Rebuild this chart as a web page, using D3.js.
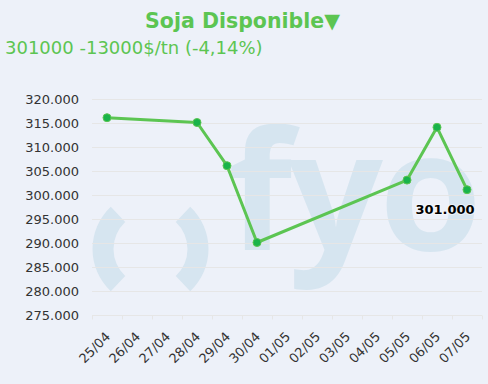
<!DOCTYPE html>
<html>
<head>
<meta charset="utf-8">
<script src="https://cdnjs.cloudflare.com/ajax/libs/d3/7.8.5/d3.min.js"></script>
<style>
  body { margin: 0; background: #edf1f9; }
  svg { display: block; font-family: 'DejaVu Sans', Verdana, sans-serif; }
</style>
</head>
<body>
<svg width="488" height="384"></svg>
<script>
// chart values
var dates = ['25/04','26/04','27/04','28/04','29/04','30/04','01/05','02/05','03/05','04/05','05/05','06/05','07/05'];
var prices = [316000, null, null, 315000, 306000, 290000, null, null, null, null, 303000, 314000, 301000];
var yTicks = [275000, 280000, 285000, 290000, 295000, 300000, 305000, 310000, 315000, 320000];
var title = 'Soja Disponible\u25BC';
var subtitle = '301000 -13000$/tn (-4,14%)';
var lastLabel = 301000;

var svg = d3.select('svg');
var green = '#5cc552';
var fmt = d3.formatLocale({decimal: ',', thousands: '.', grouping: [3], currency: ['$', '']}).format(',.0f');

var x = d3.scaleBand().domain(dates).range([92, 482]);
var y = d3.scaleLinear().domain([275000, 320000]).range([314.5, 98.5]);

svg.append('rect').attr('width', 488).attr('height', 384).attr('fill', '#edf1f9');

// watermark "( )fyo"
var wm = svg.append('g').attr('fill', '#d6e5f0');
var paren = d3.arc().innerRadius(37).outerRadius(58);
wm.append('path')
  .attr('transform', 'translate(150.5,249)')
  .attr('d', paren({startAngle: Math.PI * 1.24, endAngle: Math.PI * 1.76}));
wm.append('path')
  .attr('transform', 'translate(150.5,249)')
  .attr('d', paren({startAngle: Math.PI * 0.24, endAngle: Math.PI * 0.76}));
wm.append('text')
  .attr('x', 228).attr('y', 250)
  .attr('font-family', "'Open Sans', sans-serif")
  .attr('font-weight', 'bold')
  .attr('font-size', 166)
  .attr('textLength', 254)
  .attr('lengthAdjust', 'spacing')
  .text('fyo');

// grid
svg.append('g').selectAll('line')
  .data(yTicks.slice(1))
  .enter().append('line')
  .attr('x1', 92).attr('x2', 482)
  .attr('y1', function(d) { return Math.round(y(d)) + 0.5; })
  .attr('y2', function(d) { return Math.round(y(d)) + 0.5; })
  .attr('stroke', '#e6e6e6');

// y labels
svg.append('g').selectAll('text')
  .data(yTicks)
  .enter().append('text')
  .attr('x', 79)
  .attr('y', function(d) { return y(d) + 5; })
  .attr('text-anchor', 'end')
  .attr('font-size', 13)
  .attr('fill', '#333')
  .text(function(d) { return fmt(d); });

// x axis
var xa = svg.append('g').attr('transform', 'translate(0,' + (Math.round(y(275000)) + 0.5) + ')');
xa.append('line').attr('x1', 92).attr('x2', 482).attr('stroke', '#e6e6e6');
xa.selectAll('line.tick')
  .data(dates.concat(['end']))
  .enter().append('line')
  .attr('class', 'tick')
  .attr('x1', function(d, i) { return Math.round(92 + i * x.step()) + 0.5; })
  .attr('x2', function(d, i) { return Math.round(92 + i * x.step()) + 0.5; })
  .attr('y1', 0).attr('y2', 4)
  .attr('stroke', '#e6e6e6');
xa.selectAll('text')
  .data(dates)
  .enter().append('text')
  .attr('text-anchor', 'end')
  .attr('font-size', 13)
  .attr('fill', '#333')
  .attr('transform', function(d) {
    return 'translate(' + (x(d) + x.bandwidth() / 2 + 4) + ',22) rotate(-45)';
  })
  .text(function(d) { return d; });

// line
var pts = dates.map(function(d, i) { return {date: d, v: prices[i]}; })
  .filter(function(d) { return d.v != null; });
var line = d3.line()
  .x(function(d) { return x(d.date) + x.bandwidth() / 2; })
  .y(function(d) { return y(d.v); });
svg.append('path')
  .datum(pts)
  .attr('d', line)
  .attr('fill', 'none')
  .attr('stroke', green)
  .attr('stroke-width', 3)
  .attr('stroke-linejoin', 'round');
svg.append('g').selectAll('circle')
  .data(pts)
  .enter().append('circle')
  .attr('cx', function(d) { return x(d.date) + x.bandwidth() / 2; })
  .attr('cy', function(d) { return y(d.v); })
  .attr('r', 4)
  .attr('fill', '#19b34a')
  .attr('stroke', '#5cc552')
  .attr('stroke-width', 1);

// last value label
svg.append('text')
  .attr('x', 445).attr('y', 214)
  .attr('text-anchor', 'middle')
  .attr('font-weight', 'bold')
  .attr('font-size', 13)
  .attr('fill', '#000')
  .attr('stroke', '#fff').attr('stroke-width', 2).attr('paint-order', 'stroke')
  .attr('stroke-opacity', 0.5)
  .text(fmt(lastLabel));

// titles
svg.append('text')
  .attr('x', 242.5).attr('y', 28)
  .attr('text-anchor', 'middle')
  .attr('font-size', 20.5)
  .attr('font-weight', 'bold')
  .attr('fill', green)
  .text(title);
svg.append('text')
  .attr('x', 5).attr('y', 54)
  .attr('font-size', 18)
  .attr('fill', green)
  .text(subtitle);
</script>
</body>
</html>
